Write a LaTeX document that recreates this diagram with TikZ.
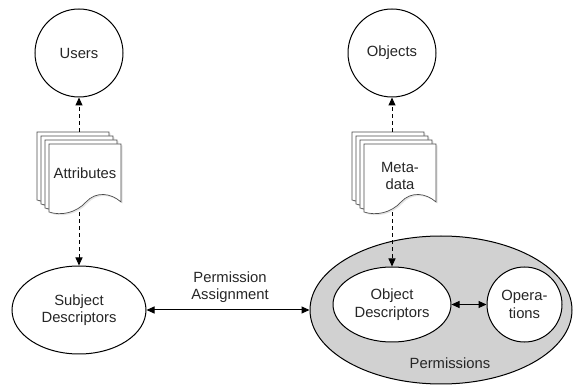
\documentclass[tikz,border=0pt]{standalone}
\usepackage{fontspec}
\setmainfont{Liberation Sans}
\usetikzlibrary{shapes.geometric,arrows.meta}

% one sheet of a document stack, with a wavy lower edge
\newcommand\sheetpath{(0,0) -- (72,0) -- (72,58) .. controls (62,49) and (47,47) .. (37,58) .. controls (27,69) and (12,72) .. (0,68) -- cycle}

\tikzset{
  every node/.style={font=\fontsize{14.8}{17.5}\selectfont, text=black!85},
  entity/.style={circle, draw, line width=1pt, fill=white, minimum size=88pt, inner sep=0pt},
  descr/.style={ellipse, draw, line width=1pt, fill=white, inner sep=0pt, align=center},
  flow/.style={line width=1pt, dash pattern=on 4pt off 3pt, -{Triangle[length=8pt,width=7pt]}},
  link/.style={line width=1pt, {Triangle[length=8pt,width=7pt]}-{Triangle[length=8pt,width=7pt]}},
  sheet/.style={draw=black!70, line width=0.7pt, fill=white},
  sheetshadow/.style={fill=black!10},
  holder/.style={draw=none, inner sep=0pt, minimum width=84pt, minimum height=80pt}
}

\begin{document}
\begin{tikzpicture}[x=1pt, y=-1pt]
  \useasboundingbox (0,0) rectangle (574,385);

  % top row: users and objects
  \node[entity] (users) at (79,53) {Users};
  \node[entity] (objects) at (392,53) {Objects};

  % document stacks
  \foreach \k in {0,1,2,3} {
    \fill[sheetshadow, shift={({38.5+4*\k},{133.5+4*\k})}] \sheetpath;
    \draw[sheet, shift={({37+4*\k},{132+4*\k})}] \sheetpath;
    \fill[sheetshadow, shift={({353.5+4*\k},{133.5+4*\k})}] \sheetpath;
    \draw[sheet, shift={({352+4*\k},{132+4*\k})}] \sheetpath;
  }
  \node[holder] (attr) at (79,172) {};
  \node[holder] (meta) at (394,172) {};
  \node (attrtext) at (85,173) {Attributes};
  \node[align=center] (metatext) at (400,176) {Meta-\\data};

  % lower row
  \node[descr, minimum width=134pt, minimum height=88pt] (subj) at (79,310) {Subject\\Descriptors};
  \node[ellipse, draw, line width=1pt, fill=black!18, minimum width=262pt, minimum height=148pt, inner sep=0pt] (perm) at (441,310) {};
  \node[descr, minimum width=118pt, minimum height=75pt] (od) at (392,304.5) {Object\\Descriptors};
  \node[circle, draw, line width=1pt, fill=white, minimum size=75pt, inner sep=0pt, align=center] (ops) at (524.5,304.5) {Opera-\\tions};
  \node (permlabel) at (450,363) {Permissions};
  \node[align=center] (assign) at (230,287) {Permission\\Assignment};

  % connectors
  \draw[flow] (attr.north -| users.south) -- (users.south);
  \draw[flow] (attr.south -| subj.north) -- (subj.north);
  \draw[flow] (meta.north -| objects.south) -- (objects.south);
  \draw[flow] (meta.south -| od.north) -- (od.north);
  \draw[link] (subj) -- (perm);
  \draw[link] (od) -- (ops);
\end{tikzpicture}
\end{document}
